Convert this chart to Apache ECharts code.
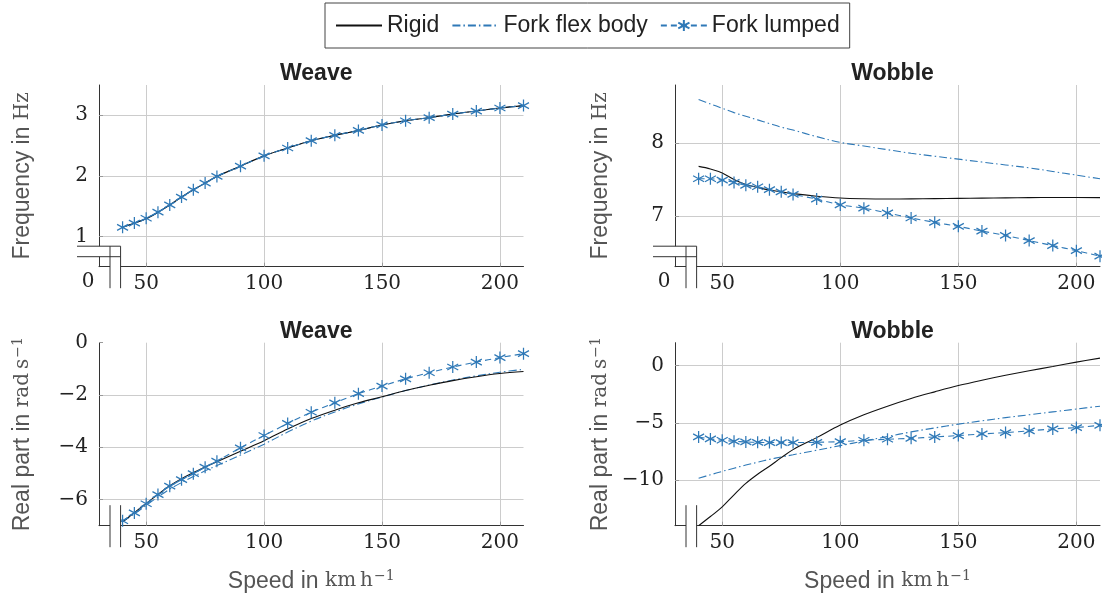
<!DOCTYPE html>
<html>
<head>
<meta charset="utf-8">
<script src="https://cdn.jsdelivr.net/npm/echarts@6/dist/echarts.min.js"></script>
<style>
  html, body { margin: 0; padding: 0; background: #fff; }
  #chart { width: 1102px; height: 596px; }
</style>
</head>
<body>
<div id="chart"></div>
<script>
// Forward speed in km/h at which each mode was evaluated
const speeds = [40, 45, 50, 55, 60, 65, 70, 75, 80, 90, 100, 110, 120, 130, 140, 150, 160, 170, 180, 190, 200, 210];

// Weave frequency in Hz
const weaveFreqRigid  = [1.15, 1.22, 1.29, 1.40, 1.52, 1.65, 1.77, 1.88, 1.99, 2.16, 2.33, 2.46, 2.58, 2.67, 2.75, 2.84, 2.91, 2.96, 3.02, 3.07, 3.12, 3.16];
const weaveFreqFlex   = [1.15, 1.22, 1.29, 1.40, 1.52, 1.65, 1.77, 1.88, 1.99, 2.16, 2.33, 2.46, 2.58, 2.67, 2.75, 2.84, 2.91, 2.96, 3.02, 3.07, 3.12, 3.16];
const weaveFreqLumped = [1.15, 1.22, 1.30, 1.40, 1.52, 1.65, 1.77, 1.88, 1.99, 2.16, 2.33, 2.46, 2.58, 2.67, 2.75, 2.84, 2.91, 2.96, 3.02, 3.07, 3.12, 3.16];

// Wobble frequency in Hz
const wobbleFreqRigid  = [7.68, 7.645, 7.59, 7.50, 7.43, 7.39, 7.355, 7.33, 7.305, 7.27, 7.245, 7.235, 7.232, 7.233, 7.236, 7.24, 7.243, 7.247, 7.25, 7.252, 7.253, 7.25];
const wobbleFreqFlex   = [8.60, 8.54, 8.48, 8.42, 8.37, 8.32, 8.27, 8.22, 8.18, 8.09, 8.01, 7.96, 7.91, 7.86, 7.82, 7.78, 7.74, 7.70, 7.66, 7.61, 7.56, 7.51];
const wobbleFreqLumped = [7.51, 7.51, 7.49, 7.46, 7.42, 7.40, 7.36, 7.33, 7.295, 7.23, 7.15, 7.105, 7.04, 6.97, 6.91, 6.855, 6.79, 6.73, 6.66, 6.59, 6.52, 6.445];

// Weave real part in rad/s
const weaveRealRigid  = [-6.85, -6.50, -6.15, -5.80, -5.47, -5.20, -4.97, -4.75, -4.55, -4.15, -3.75, -3.30, -2.90, -2.58, -2.30, -2.07, -1.83, -1.63, -1.45, -1.30, -1.18, -1.10];
const weaveRealFlex   = [-6.85, -6.55, -6.22, -5.90, -5.60, -5.35, -5.12, -4.90, -4.70, -4.30, -3.88, -3.42, -3.00, -2.65, -2.34, -2.08, -1.83, -1.62, -1.43, -1.27, -1.13, -1.02];
const weaveRealLumped = [-6.81, -6.51, -6.16, -5.81, -5.49, -5.24, -5.01, -4.76, -4.53, -4.02, -3.55, -3.09, -2.66, -2.30, -1.95, -1.66, -1.38, -1.15, -0.93, -0.74, -0.57, -0.42];

// Wobble real part in rad/s
const wobbleRealRigid  = [-14.0, -13.2, -12.35, -11.3, -10.3, -9.5, -8.8, -8.05, -7.35, -6.3, -5.2, -4.3, -3.55, -2.88, -2.3, -1.75, -1.28, -0.85, -0.45, -0.08, 0.30, 0.65];
const wobbleRealFlex   = [-9.85, -9.55, -9.25, -8.97, -8.70, -8.45, -8.20, -7.99, -7.80, -7.40, -7.00, -6.60, -6.20, -5.80, -5.45, -5.12, -4.83, -4.55, -4.30, -4.05, -3.80, -3.55];
const wobbleRealLumped = [-6.24, -6.41, -6.53, -6.62, -6.68, -6.71, -6.73, -6.73, -6.73, -6.71, -6.65, -6.53, -6.44, -6.36, -6.24, -6.12, -5.98, -5.86, -5.71, -5.54, -5.42, -5.22];

// Panel titles and axis ranges
const panelTitles = ['Weave', 'Wobble', 'Weave', 'Wobble'];
const speedRange = [30, 210];
const yRanges = [[0.5, 3.5], [6.3, 8.8], [-7, 0], [-14, 2]];
const yIntervals = [1, 1, 2, 5];

const BLUE = '#2f79b7';
const SERIF = '"DejaVu Serif", "Liberation Serif", serif';
const SANS = '"Liberation Sans", Arial, sans-serif';
const NAME_GRAY = '#555';

const grids = [
  { left: 99,  top: 85,    width: 424.5, height: 181.7 },
  { left: 675, top: 85,    width: 425,   height: 181.7 },
  { left: 99,  top: 342.7, width: 424.5, height: 183 },
  { left: 675, top: 342.7, width: 425,   height: 183 }
];

const pair = (ys) => speeds.map((s, i) => [s, ys[i]]);
const minus = (v) => String(v).replace('-', '\u2212');

const richUnits = {
  u:   { fontFamily: SERIF, fontSize: 20, color: NAME_GRAY },
  sup: { fontFamily: SERIF, fontSize: 14, color: NAME_GRAY, verticalAlign: 'top', padding: [0, 0, 8, 1] }
};

const xAxes = grids.map((g, i) => ({
  type: 'value',
  gridIndex: i,
  min: speedRange[0],
  max: speedRange[1],
  minInterval: 50,
  maxInterval: 50,
  name: i >= 2 ? 'Speed in {u|km\u2009h}{sup|\u22121}' : '',
  nameLocation: 'middle',
  nameGap: 44,
  nameTextStyle: { fontFamily: SANS, fontSize: 23, color: NAME_GRAY, rich: richUnits },
  axisLine: { show: true, onZero: false, lineStyle: { color: '#333', width: 1 } },
  axisTick: { show: true, inside: true, length: 4, lineStyle: { color: '#999' } },
  axisLabel: { fontFamily: SERIF, fontSize: 20, color: '#222', margin: 7, showMinLabel: false, showMaxLabel: false },
  splitLine: { show: true, showMinLine: false, showMaxLine: false, lineStyle: { color: '#cccccc', width: 1 } }
}));

const yAxes = grids.map((g, i) => ({
  type: 'value',
  gridIndex: i,
  min: yRanges[i][0],
  max: yRanges[i][1],
  minInterval: yIntervals[i],
  maxInterval: yIntervals[i],
  name: i < 2 ? 'Frequency in {u|Hz}' : 'Real part in {u|rad\u2009s}{sup|\u22121}',
  nameLocation: 'middle',
  nameRotate: 90,
  nameGap: i % 2 === 0 ? 65 : 63,
  nameTextStyle: { fontFamily: SANS, fontSize: 23, color: NAME_GRAY, rich: richUnits },
  axisLine: { show: true, onZero: false, lineStyle: { color: '#333', width: 1 } },
  axisTick: { show: true, inside: true, length: 4, lineStyle: { color: '#999' } },
  axisLabel: {
    fontFamily: SERIF, fontSize: 20, color: '#222', margin: 11,
    showMinLabel: false,
    showMaxLabel: i === 2,
    formatter: minus
  },
  splitLine: { show: true, showMinLine: false, showMaxLine: false, lineStyle: { color: '#cccccc', width: 1 } }
}));

const titles = grids.map((g, i) => ({
  text: panelTitles[i],
  left: g.left + g.width / 2,
  top: g.top - 28,
  textAlign: 'center',
  textStyle: { fontFamily: SANS, fontSize: 23, fontWeight: 'bold', color: '#222' }
}));

const asterisk = 'path://M0,-10L0,10M-8.66,-5L8.66,5M-8.66,5L8.66,-5';
const HIDDEN = 'rgba(0,0,0,0)';

const panelData = [
  [weaveFreqRigid, weaveFreqFlex, weaveFreqLumped],
  [wobbleFreqRigid, wobbleFreqFlex, wobbleFreqLumped],
  [weaveRealRigid, weaveRealFlex, weaveRealLumped],
  [wobbleRealRigid, wobbleRealFlex, wobbleRealLumped]
];

const series = [];
panelData.forEach((d, i) => {
  series.push({
    name: 'Rigid', type: 'line', xAxisIndex: i, yAxisIndex: i,
    data: pair(d[0]), smooth: 0.35, symbol: 'circle', showSymbol: false,
    itemStyle: { color: HIDDEN, borderColor: HIDDEN },
    lineStyle: { color: '#111', width: 1.1 }, z: 3
  });
  series.push({
    name: 'Fork flex body', type: 'line', xAxisIndex: i, yAxisIndex: i,
    data: pair(d[1]), smooth: 0.35, symbol: 'circle', showSymbol: false,
    itemStyle: { color: HIDDEN, borderColor: HIDDEN },
    lineStyle: { color: BLUE, width: 1.1, type: [8, 3, 1.5, 3] }, z: 2
  });
  series.push({
    name: 'Fork lumped', type: 'line', xAxisIndex: i, yAxisIndex: i,
    data: pair(d[2]), smooth: 0.3, symbol: asterisk, symbolSize: [11, 12], showSymbol: true,
    itemStyle: { color: BLUE, borderColor: BLUE, borderWidth: 1.3 },
    lineStyle: { color: BLUE, width: 1.1, type: [6, 4] }, z: 4
  });
});

const chart = echarts.init(document.getElementById('chart'), null, { renderer: 'canvas' });
chart.setOption({
  animation: false,
  backgroundColor: '#fff',
  title: titles,
  legend: {
    data: ['Rigid', 'Fork flex body', 'Fork lumped'],
    left: 325, top: 3,
    padding: [11, 10],
    itemWidth: 46, itemHeight: 14, itemGap: 12,
    borderColor: '#444', borderWidth: 1,
    textStyle: { fontFamily: SANS, fontSize: 23, color: '#222' }
  },
  grid: grids,
  xAxis: xAxes,
  yAxis: yAxes,
  series: series
});

// Axis-break decorations: double bars where the axes are cut
const elements = [];
grids.forEach((g, i) => {
  const L = chart.convertToPixel({ xAxisIndex: i }, speedRange[0]);
  const xs = chart.convertToPixel({ xAxisIndex: i }, speeds[0]);
  const B = chart.convertToPixel({ yAxisIndex: i }, yRanges[i][0]);
  const x1 = L + 11, x2 = xs - 2;
  const top = B - 20.5, bottom = B + 21.5;
  const line = (ax, ay, bx, by) => ({
    type: 'line', z: 101, silent: true,
    shape: { x1: ax, y1: ay, x2: bx, y2: by },
    style: { stroke: '#333', lineWidth: 1 }
  });
  elements.push({ type: 'rect', z: 100, silent: true,
    shape: { x: x1, y: top, width: x2 - x1, height: bottom - top }, style: { fill: '#fff' } });
  if (i < 2) {
    const hx = L - 22, hb = B - 10;
    elements.push({ type: 'rect', z: 100, silent: true,
      shape: { x: hx, y: top, width: x2 - hx, height: hb - top }, style: { fill: '#fff' } });
    elements.push(line(hx, top, x2, top));
    elements.push(line(hx, hb, x2, hb));
    elements.push({ type: 'text', z: 101, silent: true,
      x: L - 11, y: B + 15,
      style: { text: '0', fontFamily: SERIF, fontSize: 20, fill: '#222', align: 'center', verticalAlign: 'middle' } });
  }
  elements.push(line(x1, top, x1, bottom));
  elements.push(line(x2, top, x2, bottom));
});
chart.setOption({ graphic: elements });
</script>
</body>
</html>
